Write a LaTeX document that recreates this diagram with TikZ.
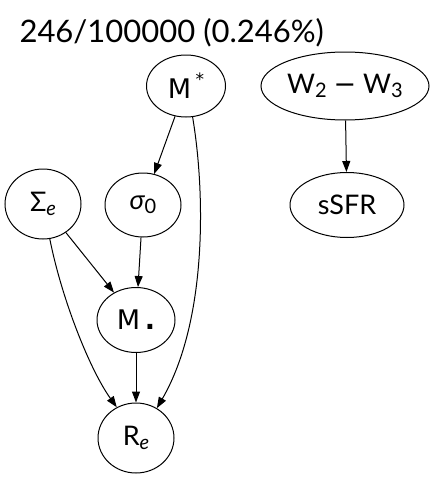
\documentclass[tikz,border=0pt]{standalone}
\usepackage{fontspec}
\setmainfont{Lato}
\newfontfamily\dejavu{DejaVu Sans}
\usetikzlibrary{shapes.geometric,arrows.meta}

\tikzset{
  var/.style={ellipse, draw, black, inner sep=0pt, font=\fontsize{27}{30}\selectfont},
  dep/.style={-{Triangle[length=11pt,width=8pt]}, line width=1pt}
}
\newcommand{\lsub}[1]{\raisebox{-0.3ex}{\fontsize{20}{22}\selectfont #1}}

\begin{document}
\begin{tikzpicture}[x=1pt,y=-1pt]
    \useasboundingbox[fill=white] (0,0) rectangle (438,479);

    \node[anchor=west, font=\fontsize{31}{36}\selectfont] (title) at (16,33) {246/100000 (0.246\%)};

    \draw[line width=1pt]
    (186, 86) node[var, minimum width=79, minimum height=62](Mstar){\dejavu\fontsize{27}{30}\selectfont M\,\raisebox{0.9ex}{\fontsize{17}{19}\selectfont *}}
    (345, 86) node[var, minimum width=168, minimum height=68](W){W\lsub{2} {\dejavu −} W\lsub{3}}
    (43, 204) node[var, minimum width=76, minimum height=70](Sigma){Σ\lsub{\itshape e}}
    (143, 205) node[var, minimum width=76, minimum height=64](sigma){\itshape σ\upshape\lsub{0}}
    (347, 205) node[var, minimum width=114, minimum height=65](sSFR){sSFR}
    (136, 320) node[var, minimum width=78, minimum height=65](Mdot){\dejavu\fontsize{27}{30}\selectfont M\,\textbf{.}}
    (136, 438) node[var, minimum width=76, minimum height=70](Re){R\lsub{\itshape e}};

    \draw[dep] (Mstar) -- (sigma);
    \draw[dep] (Mstar.-78) .. controls (205,190) and (208,320) .. (Re.55);
    \draw[dep] (W) -- (sSFR);
    \draw[dep] (Sigma) -- (Mdot);
    \draw[dep] (Sigma.-79) .. controls (62,300) and (90,370) .. (Re.122);
    \draw[dep] (sigma) -- (Mdot);
    \draw[dep] (Mdot) -- (Re);

  \end{tikzpicture}
\end{document}
